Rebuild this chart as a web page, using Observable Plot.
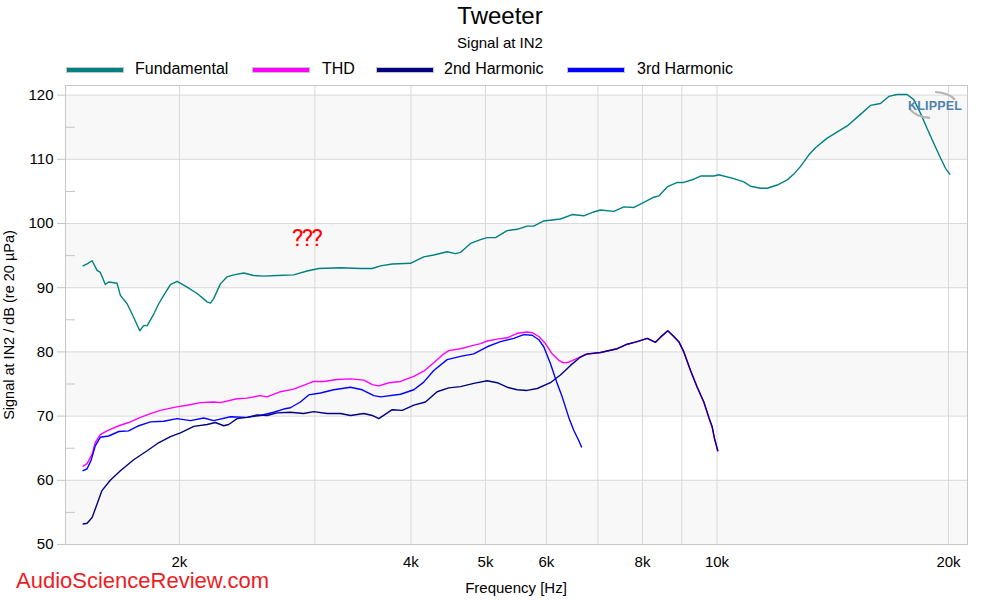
<!DOCTYPE html>
<html>
<head>
<meta charset="utf-8">
<script src="https://cdn.jsdelivr.net/npm/d3@7"></script>
<script src="https://cdn.jsdelivr.net/npm/@observablehq/plot@0.6"></script>
<style>
  html, body { margin: 0; padding: 0; background: #fff; }
  #wrap { position: relative; width: 1000px; height: 600px; overflow: hidden; font-family: Arial, "Liberation Sans", sans-serif; color: #000; }
  .abs { position: absolute; white-space: nowrap; line-height: 1; }
  #title { left: 0; width: 1000px; text-align: center; top: 4px; font-size: 24px; }
  #subtitle { left: 0; width: 1000px; text-align: center; top: 34.5px; font-size: 15px; }
  .sw { position: absolute; top: 67px; width: 58px; height: 6px; box-sizing: border-box; border: 1px solid #c4c4c4; }
  .lt { position: absolute; top: 60.5px; font-size: 16px; line-height: 1; white-space: nowrap; }
  #chart { position: absolute; left: 0; top: 80px; }
  #xlabel { left: 316px; width: 400px; text-align: center; top: 579.5px; font-size: 15px; }
  #ylabel { left: 9px; top: 325px; font-size: 14.5px; transform: translate(-50%, -50%) rotate(-90deg); }
  #asr { left: 16px; top: 573.2px; font-size: 22px; line-height: 0.75; color: #ed1c24; }
  #qqq { left: 292px; top: 225.8px; font-size: 24px; font-family: Roboto, sans-serif; color: #ff0000; letter-spacing: -1.6px; }
  #logo { position: absolute; left: 0; top: 0; pointer-events: none; }
</style>
</head>
<body>
<div id="wrap">
  <div id="title" class="abs">Tweeter</div>
  <div id="subtitle" class="abs">Signal at IN2</div>
  <div id="legend"></div>
  <div id="chart"></div>
  <div id="xlabel" class="abs">Frequency [Hz]</div>
  <div id="ylabel" class="abs">Signal at IN2 / dB (re 20 µPa)</div>
  <div id="qqq" class="abs">???</div>
  <div id="asr" class="abs">AudioScienceReview.com</div>
  <svg id="logo" width="1000" height="140">
    <path d="M 935.1 92.0 A 24 13 0 0 1 954.9 99.7" fill="none" stroke="#b4b4b4" stroke-width="2.2"/>
    <path d="M 930.1 117.9 A 24 13 0 0 1 909.9 108.6" fill="none" stroke="#b4b4b4" stroke-width="2.2"/>
    <text x="908" y="110" font-family="Arial, 'Liberation Sans', sans-serif" font-weight="bold" font-size="12.5" fill="#4f82ad" letter-spacing="0.2">KLIPPEL</text>
  </svg>
</div>
<script>
// ---- data ----
const seriesNames = ["Fundamental", "THD", "2nd Harmonic", "3rd Harmonic"];
const seriesColors = ["#008080", "#ff00ff", "#000080", "#0000ff"];

const fundFreq = [1499,1517,1540,1563,1578,1602,1618,1659,1676,1710,1736,1776,1797,1816,1852,1880,1908,1947,1986,2047,2109,2173,2195,2216,2261,2307,2353,2425,2498,2574,2679,2816,2931,3035,3240,3440,3562,3652,3782,3994,4156,4283,4458,4570,4639,4780,4926,5025,5152,5335,5497,5664,5777,5953,6258,6482,6710,6914,7055,7343,7566,7796,8033,8277,8402,8615,8877,9055,9330,9519,9906,10055,10517,10836,11056,11392,11623,11977,12341,12588,12843,13166,13429,13910,14766,15366,15833,16314,16724,17148,17670,18023,18388,18760,19135,19527,19821,20078];
const fundDb = [93.4,93.7,94.2,92.7,92.4,90.5,90.9,90.7,88.8,87.5,85.9,83.3,84.1,84.1,85.9,87.5,88.8,90.5,91.0,90.1,89.1,87.8,87.6,88.3,90.6,91.7,92.0,92.3,91.9,91.8,91.9,92.0,92.6,93.0,93.1,93.0,93.0,93.4,93.7,93.8,94.8,95.1,95.6,95.3,95.5,96.9,97.5,97.8,97.8,98.9,99.1,99.6,99.6,100.4,100.7,101.4,101.2,101.8,102.1,101.9,102.6,102.5,103.3,104.1,104.3,105.7,106.4,106.4,106.9,107.4,107.4,107.6,107.0,106.5,105.8,105.5,105.5,106.0,106.8,107.7,108.9,110.7,111.8,113.3,115.2,117.0,118.4,118.7,119.8,120.1,120.1,119.3,117.2,114.8,112.5,110.2,108.6,107.7];

const thdFreq = [1499,1517,1540,1555,1578,1610,1668,1718,1780,1834,1889,1976,2047,2130,2216,2261,2377,2449,2549,2600,2706,2816,2916,2990,3080,3207,3338,3474,3562,3633,3744,3877,4035,4156,4283,4413,4480,4639,4780,4926,5025,5178,5335,5497,5664,5751,5865,5983,6104,6226,6320,6416,6580,6746,7055,7418,7643,7875,8115,8319,8444,8630,8787,8919,9055,9238,9425,9613,9758,9858,9926,10024];
const thdDb = [62.2,62.6,64.1,65.9,67.1,67.7,68.5,69.0,69.8,70.4,70.9,71.4,71.7,72.1,72.2,72.1,72.7,72.8,73.2,73.0,73.8,74.2,74.9,75.4,75.4,75.7,75.8,75.6,74.9,74.7,75.2,75.4,76.2,77.0,78.3,79.7,80.2,80.5,80.9,81.3,81.7,82.0,82.2,82.9,83.1,83.0,82.4,81.3,79.7,78.7,78.3,78.4,79.0,79.6,79.9,80.5,81.2,81.6,82.1,81.5,82.3,83.3,82.4,81.6,80.0,77.1,74.5,72.2,69.8,68.3,66.5,64.6];

const h2Freq = [1499,1517,1540,1563,1586,1626,1676,1744,1816,1871,1947,2006,2088,2173,2227,2284,2318,2377,2449,2524,2600,2679,2788,2901,2990,3112,3240,3338,3474,3562,3633,3782,3897,4035,4178,4326,4480,4639,4828,5025,5178,5335,5497,5664,5838,6073,6258,6450,6646,6780,7055,7418,7643,7875,8115,8319,8444,8630,8787,8919,9055,9238,9425,9613,9758,9858,9926,10024];
const h2Db = [53.2,53.3,54.2,56.3,58.4,60.0,61.5,63.2,64.6,65.7,66.8,67.4,68.4,68.7,69.0,68.5,68.7,69.6,69.8,70.2,70.1,70.5,70.6,70.4,70.7,70.4,70.4,70.1,70.4,70.1,69.6,71.0,70.9,71.7,72.2,73.8,74.4,74.6,75.1,75.5,75.2,74.5,74.1,74.0,74.3,75.2,76.4,77.9,79.2,79.7,79.9,80.5,81.2,81.6,82.1,81.5,82.3,83.3,82.4,81.6,80.0,77.1,74.5,72.2,69.8,68.3,66.5,64.6];

const h3Freq = [1499,1517,1535,1555,1578,1618,1668,1718,1771,1834,1908,1986,2067,2151,2216,2330,2449,2549,2652,2733,2788,2873,2945,3051,3174,3338,3457,3579,3652,3877,4035,4156,4283,4458,4639,4828,5025,5229,5442,5607,5751,5865,5953,6073,6196,6291,6416,6512,6611,6666];
const h3Db = [61.5,61.8,63.1,65.4,66.7,66.9,67.6,67.7,68.5,69.1,69.2,69.6,69.3,69.7,69.3,69.9,69.8,70.1,70.6,71.1,71.3,72.2,73.3,73.6,74.1,74.5,74.1,73.2,73.0,73.4,74.1,75.3,77.1,78.8,79.3,79.7,80.8,81.6,82.1,82.7,82.6,81.9,80.8,78.2,75.1,73.0,69.8,67.8,66.2,65.2];

const xDomain = [1422, 21170];
const yDomain = [50, 121.5];
const yTicks = [50, 60, 70, 80, 90, 100, 110, 120];
const yMinor = [55, 65, 75, 85, 95, 105, 115];
const xTickValues = [2000, 4000, 5000, 6000, 8000, 10000, 20000];
const xTickLabels = ["2k", "4k", "5k", "6k", "8k", "10k", "20k"];
const xGrid = [2000, 3000, 4000, 5000, 6000, 7000, 8000, 9000, 10000, 20000];
const bandLows = [50, 70, 90, 110];
const bandHeight = 10;

// ---- legend ----
const legendSwatchX = [66, 252, 376, 567];
const legendTextX = [135, 322, 444, 637];
const legend = document.getElementById("legend");
seriesNames.forEach((name, i) => {
  const sw = document.createElement("div");
  sw.className = "sw";
  sw.style.left = legendSwatchX[i] + "px";
  sw.style.background = seriesColors[i];
  legend.appendChild(sw);
  const t = document.createElement("div");
  t.className = "lt";
  t.style.left = legendTextX[i] + "px";
  t.textContent = name;
  legend.appendChild(t);
});

// ---- chart ----
const rows = (f, d) => f.map((x, i) => ({ f: x, db: d[i] }));
const series = [
  { rows: rows(thdFreq, thdDb), color: seriesColors[1] },
  { rows: rows(h3Freq, h3Db), color: seriesColors[3] },
  { rows: rows(h2Freq, h2Db), color: seriesColors[2] },
  { rows: rows(fundFreq, fundDb), color: seriesColors[0] }
];

const chart = Plot.plot({
  width: 1000,
  height: 520,
  marginTop: 5,
  marginBottom: 56,
  marginLeft: 65,
  marginRight: 33,
  style: { fontFamily: 'Arial, "Liberation Sans", sans-serif', fontSize: "15px", color: "#000", background: "transparent", overflow: "visible" },
  x: { type: "log", domain: xDomain },
  y: { domain: yDomain },
  marks: [
    Plot.rect(bandLows, { x1: xDomain[0], x2: xDomain[1], y1: d => d, y2: d => d + bandHeight, fill: "#f8f8f8" }),
    Plot.ruleX(xGrid, { stroke: "#d9d9d9" }),
    Plot.ruleY(yTicks, { stroke: "#d9d9d9" }),
    Plot.axisY(yTicks, { tickSize: 8, tickPadding: 4, label: null, stroke: "#c4c4c4", fill: "#000" }),
    Plot.axisY(yMinor, { tickSize: 10, dx: 10, tickFormat: () => "", label: null, stroke: "#c4c4c4" }),
    Plot.axisX(xTickValues, { tickSize: 0, tickPadding: 12, tickFormat: d => xTickLabels[xTickValues.indexOf(d)], label: null, fill: "#000" }),
    ...series.map(s => Plot.line(s.rows, { x: "f", y: "db", stroke: s.color, strokeWidth: 1.4 })),
    Plot.frame({ stroke: "#c6c6c6" })
  ]
});
document.getElementById("chart").appendChild(chart);
</script>
</body>
</html>
